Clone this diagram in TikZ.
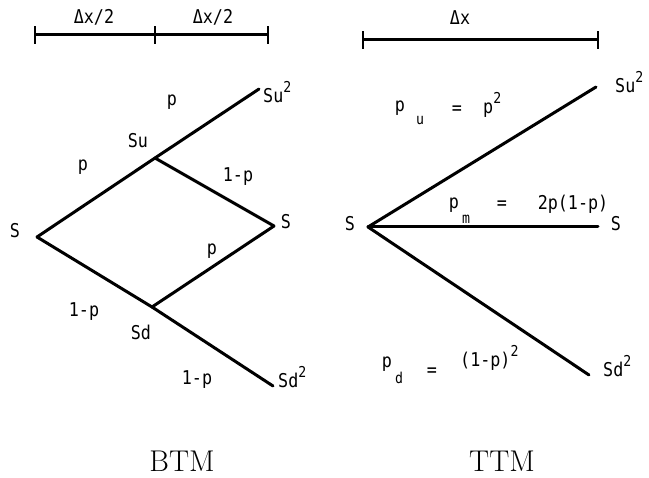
\documentclass[tikz,border=0pt]{standalone}
\usepackage{fontspec}
\newfontfamily\gothic[FakeStretch=0.88]{DejaVu Sans Mono}
\newcommand\lblfont{\fontsize{19}{21}\selectfont\gothic}
\newcommand\sqr{\raisebox{0.55em}{\fontsize{15}{15}\selectfont 2}}
\begin{document}
\begin{tikzpicture}[x=1pt,y=-1pt,
  edge/.style={line width=3pt,line cap=round},
  bar/.style={line width=3pt},
  lbl/.style={font=\lblfont,inner sep=0pt},
  sub/.style={font=\fontsize{15}{16}\selectfont\gothic,inner sep=0pt},
  captxt/.style={font=\fontsize{30}{32}\selectfont,inner sep=0pt}]
\useasboundingbox (0,0) rectangle (649,478);
% scale bars
\coordinate (a0) at (35,35); \coordinate (a1) at (155,35); \coordinate (a2) at (268,35);
\draw[bar] (a0) -- (a2);
\foreach \c in {a0,a1,a2} \draw[line width=2.5pt] ([yshift=-9pt]\c) -- ([yshift=9pt]\c);
\node[lbl] (dx1) at (94,17) {Δx/2};
\node[lbl] (dx2) at (213,17) {Δx/2};
\coordinate (b0) at (363,40); \coordinate (b1) at (598,40);
\draw[bar] (b0) -- (b1);
\foreach \c in {b0,b1} \draw[line width=2.5pt] ([yshift=-9pt]\c) -- ([yshift=9pt]\c);
\node[lbl] (dx3) at (460,18) {Δx};
% left tree
\coordinate (L0) at (37,237); \coordinate (Lu) at (155,158); \coordinate (Luu) at (259,89);
\coordinate (Lm) at (274,226); \coordinate (Ld) at (152,307); \coordinate (Ldd) at (273,386);
\draw[edge] (L0) -- (Lu);
\draw[edge] (Lu) -- (Luu);
\draw[edge] (Lu) -- (Lm);
\draw[edge] (Lm) -- (Ld);
\draw[edge] (L0) -- (Ld);
\draw[edge] (Ld) -- (Ldd);
\node[lbl] (tS) at (15,231) {S};
\node[lbl] (tSu) at (138,141) {Su};
\node[lbl,anchor=base west] (tSuu) at (263,103) {Su\sqr};
\node[lbl] (tSm) at (286,222) {S};
\node[lbl] (tSd) at (141,332) {Sd};
\node[lbl,anchor=base west] (tSdd) at (278,388) {Sd\sqr};
\node[lbl] (p1) at (172,102) {p};
\node[lbl] (p2) at (83,167) {p};
\node[lbl] (p3) at (238,177) {1-p};
\node[lbl] (p4) at (212,251) {p};
\node[lbl] (p5) at (84,312) {1-p};
\node[lbl] (p6) at (197,380) {1-p};
% right tree
\coordinate (R0) at (368,227); \coordinate (Ru) at (596,87);
\coordinate (Rm) at (598,227); \coordinate (Rd) at (589,375);
\draw[edge] (R0) -- (Ru);
\draw[edge] (R0) -- (Rm);
\draw[edge] (R0) -- (Rd);
\node[lbl] (rS) at (350,224) {S};
\node[lbl,anchor=base west] (rSuu) at (615,93) {Su\sqr};
\node[lbl] (rSm) at (616,224) {S};
\node[lbl,anchor=base west] (rSdd) at (603,377) {Sd\sqr};
% probabilities
\node[lbl] (pu) at (400,108) {p};
\node[sub] (pus) at (420,121) {u};
\node[lbl] (pueq) at (457,110) {=};
\node[lbl,anchor=base west] (puv) at (483,114) {p\sqr};
\node[lbl] (pm) at (454,205) {p};
\node[sub] (pms) at (466,219) {m};
\node[lbl] (pmeq) at (502,205) {=};
\node[lbl] (pmv) at (573,204) {2p(1-p)};
\node[lbl] (pd) at (387,364) {p};
\node[sub] (pds) at (399,378) {d};
\node[lbl] (pdeq) at (432,372) {=};
\node[lbl,anchor=base west] (pdv) at (460,367) {(1-p)\sqr};
% captions
\node[captxt] (btm) at (182,461) {BTM};
\node[captxt] (ttm) at (502,461) {TTM};
\end{tikzpicture}
\end{document}
